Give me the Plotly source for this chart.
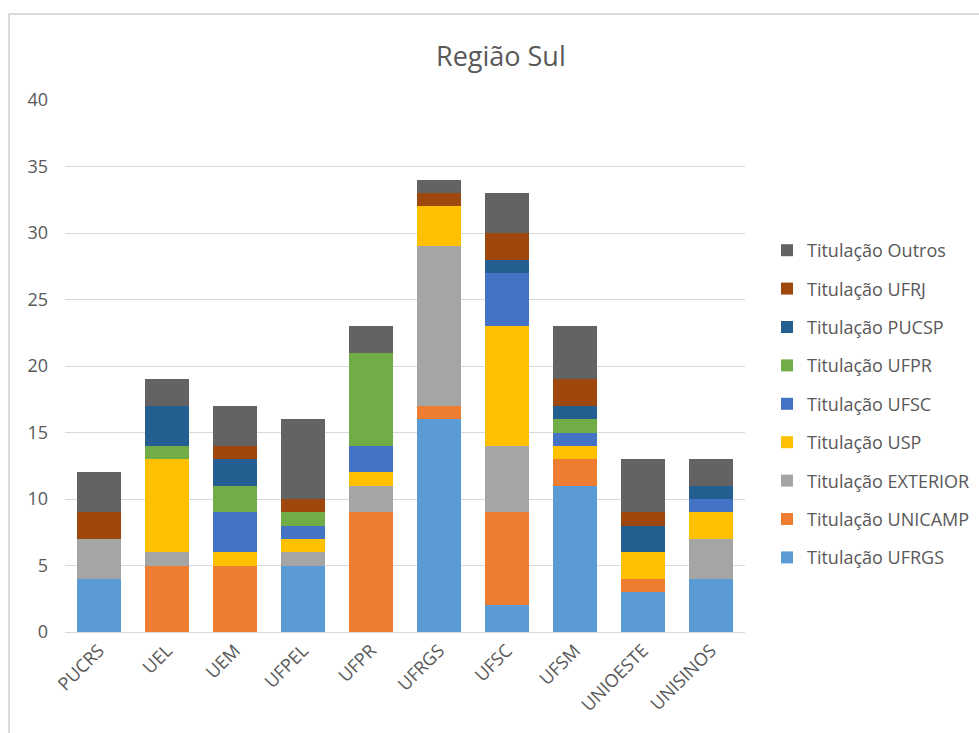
import plotly.graph_objects as go

categories = ["PUCRS", "UEL", "UEM", "UFPEL", "UFPR", "UFRGS", "UFSC", "UFSM", "UNIOESTE", "UNISINOS"]

tit_ufrgs    = [4, 0, 0, 5, 0, 16, 2, 11, 3, 4]
tit_unicamp  = [0, 5, 5, 0, 9, 1, 7, 2, 1, 0]
tit_exterior = [3, 1, 0, 1, 2, 12, 5, 0, 0, 3]
tit_usp      = [0, 7, 1, 1, 1, 3, 9, 1, 2, 2]
tit_ufsc     = [0, 0, 3, 1, 2, 0, 4, 1, 0, 1]
tit_ufpr     = [0, 1, 2, 1, 7, 0, 0, 1, 0, 0]
tit_pucsp    = [0, 3, 2, 0, 0, 0, 1, 1, 2, 1]
tit_ufrj     = [2, 0, 1, 1, 0, 1, 2, 2, 1, 0]
tit_outros   = [3, 2, 3, 6, 2, 1, 3, 4, 4, 2]

series = [
    ("Titulação UFRGS", tit_ufrgs, "#5B9BD5"),
    ("Titulação UNICAMP", tit_unicamp, "#ED7D31"),
    ("Titulação EXTERIOR", tit_exterior, "#A5A5A5"),
    ("Titulação USP", tit_usp, "#FFC000"),
    ("Titulação UFSC", tit_ufsc, "#4472C4"),
    ("Titulação UFPR", tit_ufpr, "#70AD47"),
    ("Titulação PUCSP", tit_pucsp, "#255E91"),
    ("Titulação UFRJ", tit_ufrj, "#9E480E"),
    ("Titulação Outros", tit_outros, "#636363"),
]

fig = go.Figure()
n = len(series)
for i, (name, vals, color) in enumerate(series):
    fig.add_trace(go.Bar(
        x=categories, y=vals, name=name, legendgroup=name,
        legendrank=1000 + (n - i),
        marker=dict(color=color, line=dict(width=0)),
    ))

FONT = "Open Sans"
W, H = 979, 733
L, R, T, B = 65, 234, 100, 101
pw, ph = W - L - R, H - T - B

def px_x(p):
    return (p - L) / pw

def px_y(p):
    return (H - B - p) / ph

fig.update_layout(
    width=W, height=H,
    margin=dict(l=L, r=R, t=T, b=B, autoexpand=False),
    barmode="stack", bargap=0.35,
    plot_bgcolor="white", paper_bgcolor="white",
    font=dict(family=FONT, color="#595959", size=18),
    showlegend=True,
    legend=dict(
        traceorder="grouped", tracegroupgap=12,
        x=px_x(767), xanchor="left", y=px_y(232), yanchor="top",
        font=dict(size=18, color="#595959"),
        itemwidth=30,
    ),
    xaxis=dict(
        tickangle=-45, showgrid=False, showline=True, linecolor="#d9d9d9",
        linewidth=1, ticks="", tickfont=dict(size=18, color="#595959"),
    ),
    yaxis=dict(
        range=[0, 40], dtick=5, showgrid=True, gridcolor="#d9d9d9",
        zeroline=False, showline=False, ticks="",
        tickfont=dict(size=18, color="#595959"), ticklabelstandoff=16,
    ),
    annotations=[dict(
        text="Região Sul", xref="paper", yref="paper",
        x=px_x(501), y=px_y(55), xanchor="center", yanchor="middle",
        showarrow=False, font=dict(size=27, color="#595959", family=FONT),
    )],
    shapes=[dict(
        type="rect", xref="paper", yref="paper",
        x0=px_x(9), x1=px_x(1000), y0=px_y(760), y1=px_y(14),
        line=dict(color="#d0d0d0", width=1.5), layer="below",
    )],
)

fig.write_html("out.html")
